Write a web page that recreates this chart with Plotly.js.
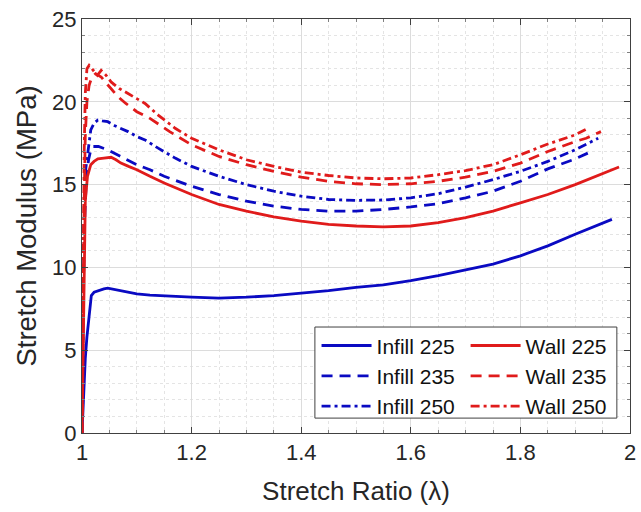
<!DOCTYPE html>
<html>
<head>
<meta charset="utf-8">
<script src="https://cdn.plot.ly/plotly-3.0.1.min.js"></script>
<style>html,body{margin:0;padding:0;background:#fff;}#chart{width:641px;height:512px;}</style>
</head>
<body>
<div id="chart"></div>
<script>
// ---- data (stretch ratio λ vs stretch modulus MPa) ----
const infill225X = [1.000,1.003,1.006,1.009,1.013,1.017,1.022,1.03,1.04,1.047,1.055,1.066,1.08,1.1,1.124,1.15,1.2,1.25,1.3,1.35,1.4,1.45,1.5,1.55,1.6,1.65,1.7,1.75,1.8,1.85,1.9,1.93,1.967];
const infill225Y = [0,2.5,4.5,5.8,7.3,8.3,8.5,8.6,8.7,8.75,8.7,8.6,8.5,8.4,8.33,8.28,8.2,8.15,8.2,8.3,8.45,8.6,8.8,8.95,9.2,9.5,9.85,10.2,10.7,11.3,12.0,12.4,12.9];

const wall225X = [1.000,1.002,1.004,1.006,1.01,1.016,1.022,1.029,1.04,1.053,1.062,1.071,1.085,1.1,1.124,1.15,1.2,1.25,1.3,1.35,1.4,1.45,1.5,1.55,1.6,1.65,1.7,1.75,1.8,1.85,1.9,1.93,1.98];
const wall225Y = [0,6,11,14,15.5,16.2,16.4,16.55,16.6,16.65,16.5,16.3,16.1,15.9,15.5,15.1,14.4,13.8,13.4,13.05,12.8,12.6,12.5,12.45,12.5,12.7,13.0,13.4,13.9,14.4,15.0,15.4,16.06];

const infill235X = [1.000,1.002,1.005,1.008,1.012,1.016,1.02,1.03,1.047,1.071,1.1,1.124,1.15,1.2,1.25,1.3,1.35,1.4,1.45,1.5,1.55,1.6,1.65,1.7,1.75,1.8,1.85,1.9,1.923];
const infill235Y = [0,8,13,15.5,16.5,17.1,17.3,17.3,17.1,16.7,16.2,15.9,15.5,14.9,14.4,14.0,13.7,13.5,13.4,13.4,13.5,13.65,13.85,14.2,14.6,15.2,15.95,16.55,16.9];

const wall235X = [1.000,1.002,1.004,1.006,1.009,1.013,1.018,1.025,1.035,1.045,1.055,1.066,1.08,1.1,1.124,1.133,1.16,1.2,1.25,1.3,1.35,1.4,1.45,1.5,1.55,1.6,1.65,1.7,1.75,1.8,1.85,1.9,1.92,1.947];
const wall235Y = [0,8,14,18,20,21.0,21.5,21.7,21.5,21.1,20.7,20.3,19.9,19.4,19.0,18.8,18.2,17.4,16.7,16.2,15.8,15.45,15.2,15.05,15.0,15.05,15.2,15.45,15.8,16.3,17.0,17.6,17.8,18.2];

const infill250X = [1.000,1.002,1.004,1.007,1.011,1.016,1.022,1.029,1.037,1.047,1.06,1.084,1.1,1.115,1.139,1.17,1.2,1.25,1.3,1.35,1.4,1.45,1.5,1.55,1.6,1.65,1.7,1.75,1.8,1.85,1.9,1.942];
const infill250Y = [0,8,13,16.0,17.2,18.3,18.7,18.9,18.85,18.8,18.55,18.2,17.9,17.7,17.2,16.6,16.1,15.5,15.0,14.6,14.3,14.1,14.05,14.07,14.2,14.45,14.85,15.3,15.8,16.4,17.1,17.8];

const wall250X = [1.000,1.002,1.004,1.006,1.009,1.013,1.02,1.028,1.035,1.044,1.053,1.068,1.084,1.1,1.115,1.139,1.17,1.2,1.25,1.3,1.35,1.4,1.45,1.5,1.55,1.6,1.65,1.7,1.75,1.8,1.85,1.9,1.923];
const wall250Y = [0,10,17,20.5,22.0,22.2,21.9,21.6,21.9,21.6,21.2,20.8,20.5,20.2,19.9,19.2,18.4,17.8,17.1,16.5,16.1,15.75,15.55,15.4,15.35,15.4,15.6,15.85,16.2,16.8,17.45,18.0,18.4];

const xTicks = [1, 1.2, 1.4, 1.6, 1.8, 2];
const xTickText = ['1', '1.2', '1.4', '1.6', '1.8', '2'];
const yTicks = [0, 5, 10, 15, 20, 25];

// ---- styles ----
const BLUE = '#0a0ac2';
const RED = '#e01b1b';
const LW = 2.8;
const DASH = '11px,7px';
const DASHDOT = '9px,4px,3px,4px';
const FONT = 'Liberation Sans, Arial, sans-serif';
const TXT = '#262626';

function tr(x, y, name, color, dash, legend) {
  return {x: x, y: y, name: name, type: 'scatter', mode: 'lines',
          line: {color: color, width: LW, dash: dash}, legend: legend};
}

const data = [
  tr(infill225X, infill225Y, 'Infill 225', BLUE, 'solid', 'legend'),
  tr(infill235X, infill235Y, 'Infill 235', BLUE, DASH, 'legend'),
  tr(infill250X, infill250Y, 'Infill 250', BLUE, DASHDOT, 'legend'),
  tr(wall225X, wall225Y, 'Wall 225', RED, 'solid', 'legend2'),
  tr(wall235X, wall235Y, 'Wall 235', RED, DASH, 'legend2'),
  tr(wall250X, wall250Y, 'Wall 250', RED, DASHDOT, 'legend2')
];

const axisCommon = {
  showline: true, linecolor: '#404040', linewidth: 1, mirror: 'ticks',
  ticks: 'inside', ticklen: 6, tickcolor: '#404040', tickwidth: 1,
  showgrid: true, gridcolor: '#dcdcdc', gridwidth: 1,
  zeroline: false,
  tickfont: {family: FONT, size: 22, color: TXT}
};

const layout = {
  width: 641, height: 512,
  margin: {l: 82, r: 11, t: 19, b: 79},
  paper_bgcolor: '#ffffff', plot_bgcolor: '#ffffff',
  font: {family: FONT, color: TXT},
  showlegend: true,
  xaxis: Object.assign({}, axisCommon, {
    range: [1, 2], tickmode: 'array', tickvals: xTicks, ticktext: xTickText,
    minor: {dtick: 0.05, tick0: 1, showgrid: true, gridcolor: '#e4e4e4', griddash: 'dot', ticks: 'inside', ticklen: 3, tickcolor: '#808080'},
    title: {text: 'Stretch Ratio (λ)', font: {family: FONT, size: 26, color: TXT}, standoff: 17}
  }),
  yaxis: Object.assign({}, axisCommon, {
    range: [0, 25], tickmode: 'array', tickvals: yTicks,
    minor: {dtick: 1, tick0: 0, showgrid: true, gridcolor: '#e4e4e4', griddash: 'dot', ticks: 'inside', ticklen: 3, tickcolor: '#808080'},
    title: {text: 'Stretch Modulus (MPa)', font: {family: FONT, size: 27.5, color: TXT}, standoff: 7}
  }),
  legend: {x: 0.428, y: 0.26, xanchor: 'left', yanchor: 'top', bgcolor: 'rgba(0,0,0,0)', borderwidth: 0,
           font: {family: FONT, size: 21, color: '#111111'}, tracegroupgap: 0, itemwidth: 50},
  legend2: {x: 0.70, y: 0.26, xanchor: 'left', yanchor: 'top', bgcolor: 'rgba(0,0,0,0)', borderwidth: 0,
            font: {family: FONT, size: 21, color: '#111111'}, tracegroupgap: 0, itemwidth: 50},
  shapes: [{type: 'rect', xref: 'paper', yref: 'paper', x0: 0.425, x1: 0.976, y0: 0.036, y1: 0.256,
            fillcolor: '#ffffff', line: {color: '#404040', width: 1}, layer: 'above'}]
};

Plotly.newPlot('chart', data, layout, {displayModeBar: false, staticPlot: true});
</script>
</body>
</html>
